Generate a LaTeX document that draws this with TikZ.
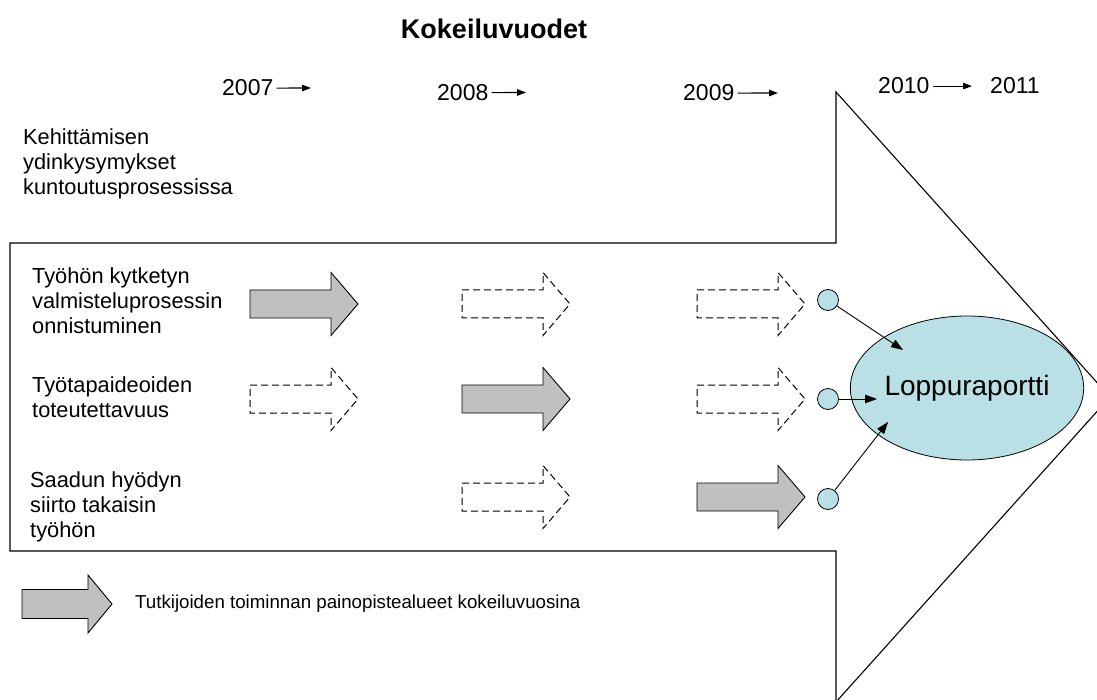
\documentclass[tikz,border=0pt]{standalone}
\usepackage{fontspec}
\setmainfont{Liberation Sans}
\usetikzlibrary{shapes.geometric,arrows.meta}

\definecolor{boxgrey}{RGB}{192,192,192}
\definecolor{repcyan}{RGB}{185,224,228}

\tikzset{
  lbl/.style={anchor=north west, inner sep=0pt, align=left, font=\fontsize{21.8}{24.8}\selectfont},
  yr/.style={anchor=base west, inner sep=0pt, font=\fontsize{23}{26}\selectfont},
  yrarrow/.style={line width=1.1pt, -{Triangle[length=9pt,width=6.5pt]}},
  done/.style={draw, line width=0.9pt, fill=boxgrey},
  todo/.style={draw, line width=1pt, dash pattern=on 7pt off 4pt},
  dot/.style={circle, draw, line width=0.8pt, fill=repcyan, minimum size=21pt, inner sep=0pt},
  feed/.style={line width=0.9pt, -{Triangle[length=12pt,width=8.5pt]}}
}

% block arrow: style, left x, centre y
\newcommand{\blockarr}[3]{%
  \draw[#1] (#2,#3-14) -- ++(81,0) -- ++(0,-17.5) -- ++(27,31.5) -- ++(-27,31.5)
    -- ++(0,-17.5) -- ++(-81,0) -- cycle;}

\begin{document}
\begin{tikzpicture}[x=1pt,y=-1pt]
\useasboundingbox (0,0) rectangle (1097,700);
\clip (0,0) rectangle (1097,700);

% big arrow
\draw[line width=1.1pt] (10,243) -- (836,243) -- (836,92) -- (1110,397) -- (836,702)
  -- (836,551) -- (10,551) -- cycle;

\node[font=\bfseries\fontsize{27}{30}\selectfont, anchor=base] (title) at (494,39) {Kokeiluvuodet};

\node[yr] (y07) at (222,96) {2007};
\node[yr] (y08) at (437,100.5) {2008};
\node[yr] (y09) at (683,101) {2009};
\node[yr] (y10) at (878,94) {2010};
\node[yr] (y11) at (990,94) {2011};
\coordinate (a07) at (311,88);
\coordinate (a08) at (526,92.5);
\coordinate (a09) at (778,93);
\draw[yrarrow] ([xshift=3pt]y07.east) -- (a07);
\draw[yrarrow] ([xshift=3pt]y08.east) -- (a08);
\draw[yrarrow] ([xshift=3pt]y09.east) -- (a09);
\draw[yrarrow] ([xshift=3pt]y10.east) -- ([xshift=-18pt]y11.west);

\node[lbl] (core) at (23,129) {Kehittämisen\\ydinkysymykset\\kuntoutusprosessissa};
\node[lbl] (row1) at (32,267.5) {Työhön kytketyn\\valmisteluprosessin\\onnistuminen};
\node[lbl] (row2) at (32,376.5) {Työtapaideoiden\\toteutettavuus};
\node[lbl] (row3) at (30,472) {Saadun hyödyn\\siirto takaisin\\työhön};

\blockarr{done}{250}{304}
\blockarr{todo}{462}{304}
\blockarr{todo}{697}{304}
\blockarr{todo}{250}{399}
\blockarr{done}{462}{399}
\blockarr{todo}{697}{399}
\blockarr{todo}{462}{497}
\blockarr{done}{697}{497}

\node[dot] (d1) at (828,300) {};
\node[dot] (d2) at (828,399) {};
\node[dot] (d3) at (828,499) {};
\node[ellipse, draw, line width=0.8pt, fill=repcyan, minimum width=222pt, minimum height=144pt,
  inner sep=0pt, font=\fontsize{28}{32}\selectfont] (rep) at (967,388) {Loppuraportti};
\coordinate (e1) at (903,350);
\coordinate (e2) at (877,399);
\coordinate (e3) at (888,422);
\draw[feed] (d1) -- (e1);
\draw[feed] (d2) -- (e2);
\draw[feed] (d3) -- (e3);

% legend
\draw[done] (22,589.5) -- (88,589.5) -- (88,575) -- (112,604) -- (88,633) -- (88,618.5)
  -- (22,618.5) -- cycle;
\node[anchor=west, inner sep=0pt, font=\fontsize{18.7}{22}\selectfont] (key) at (135,604)
  {Tutkijoiden toiminnan painopistealueet kokeiluvuosina};
\end{tikzpicture}
\end{document}
